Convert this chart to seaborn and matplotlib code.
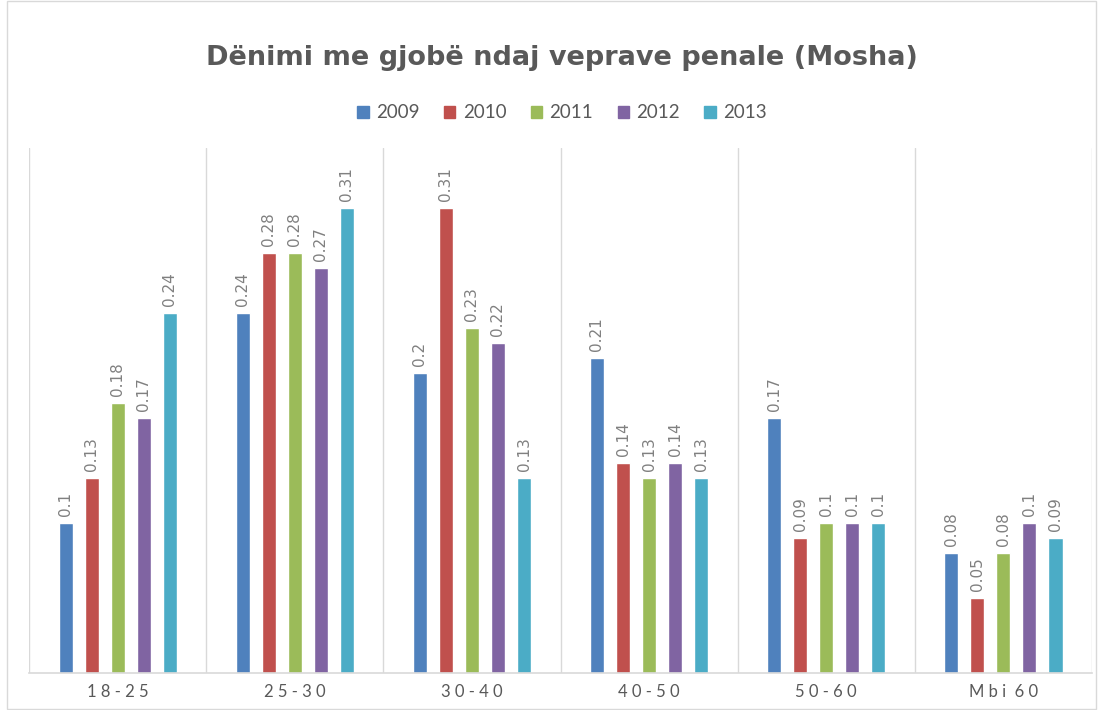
import numpy as np
import pandas as pd
import seaborn as sns
import matplotlib.pyplot as plt
from matplotlib.patches import Rectangle

# --- DONNEES ---
CATEGORIES = ["18-25", "25-30", "30-40", "40-50", "50-60", "Mbi 60"]
YEARS = ["2009", "2010", "2011", "2012", "2013"]
V_2009 = [0.10, 0.24, 0.20, 0.21, 0.17, 0.08]
V_2010 = [0.13, 0.28, 0.31, 0.14, 0.09, 0.05]
V_2011 = [0.18, 0.28, 0.23, 0.13, 0.10, 0.08]
V_2012 = [0.17, 0.27, 0.22, 0.14, 0.10, 0.10]
V_2013 = [0.24, 0.31, 0.13, 0.13, 0.10, 0.09]
COLORS = ["#4F81BD", "#C0504D", "#9BBB59", "#8064A2", "#4BACC6"]
TITLE = "Dënimi me gjobë ndaj veprave penale (Mosha)"

series = [V_2009, V_2010, V_2011, V_2012, V_2013]
rows = []
for year, vals in zip(YEARS, series):
    for cat, v in zip(CATEGORIES, vals):
        rows.append({"Mosha": cat, "Viti": year, "Vlera": v})
df = pd.DataFrame(rows)

sns.set_theme(style="white")
plt.rcParams['font.family'] = ['Lato', 'DejaVu Sans']
grey = "#595959"

fig = plt.figure(figsize=(11, 7.1), dpi=100)
ax = fig.add_axes([0.0264, 0.0521, 0.9663, 0.7394])

sns.barplot(data=df, x="Mosha", y="Vlera", hue="Viti", hue_order=YEARS,
            order=CATEGORIES, palette=COLORS, width=0.735, gap=0.46,
            saturation=1, legend=False, errorbar=None, ax=ax)

for cont, vals in zip(ax.containers, series):
    ax.bar_label(cont, labels=[f"{v:g}" for v in vals], rotation=90,
                 padding=5, fontsize=11, color="#808080", family="DejaVu Sans")

ax.set_ylim(0, 0.35)
ax.set_xlim(-0.5, len(CATEGORIES) - 0.5)
ax.set_yticks([])
ax.set_xlabel("")
ax.set_ylabel("")
ax.set_xticks(range(len(CATEGORIES)))
ax.set_xticklabels([" ".join(c) if c[0].isdigit() else "M b i  6 0" for c in CATEGORIES],
                   fontsize=12, color=grey)
ax.set_xticks(np.arange(-0.5, len(CATEGORIES)), minor=True)
ax.tick_params(axis="x", which="both", length=0, pad=8)
ax.grid(False)
ax.grid(True, axis="x", which="minor", color="#d9d9d9", linewidth=1)
for s in ["top", "right", "left"]:
    ax.spines[s].set_visible(False)
ax.spines["bottom"].set_color("#d9d9d9")
ax.spines["bottom"].set_linewidth(1.2)

handles = [Rectangle((0, 0), 1, 1, color=c) for c in COLORS]
fig.legend(handles, YEARS, loc="center", bbox_to_anchor=(0.511, 0.841), ncol=5,
           frameon=False, fontsize=13.5, handlelength=0.6, handleheight=0.6,
           handletextpad=0.4, columnspacing=1.3, labelcolor=grey)

fig.text(0.511, 0.918, TITLE, ha="center", va="center", fontsize=19.5,
         fontweight="bold", color=grey, family="DejaVu Sans")

fig.patches.append(Rectangle((0.006, 0.002), 0.99, 0.996, transform=fig.transFigure,
                             fill=False, edgecolor="#d9d9d9", linewidth=1))

plt.savefig("out.png", dpi=100)
plt.close()
